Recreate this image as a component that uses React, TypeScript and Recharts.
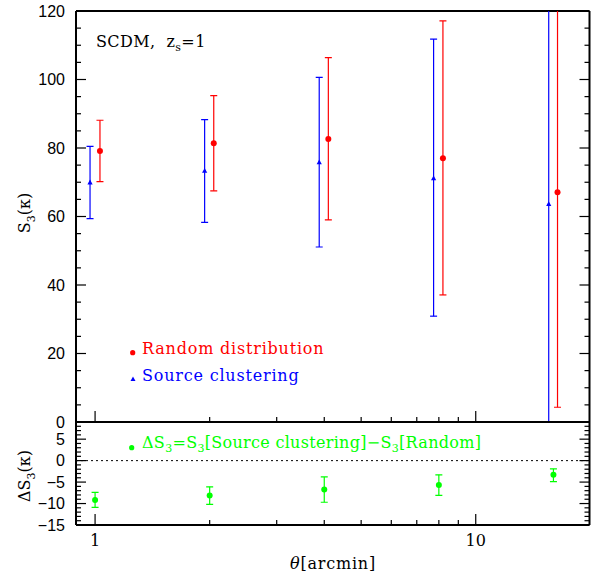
import React from "react";
import { ErrorBar, ReferenceLine, Scatter, ScatterChart, XAxis, YAxis } from "recharts";

// theta in arcmin; the two S3 series are shifted slightly left/right of the nominal scale
const thetaTicks = [1, 2, 3, 4, 5, 6, 7, 8, 9, 10];
const thetaLabels = [1, 10];
const s3Ticks = [0, 5, 10, 15, 20, 25, 30, 35, 40, 45, 50, 55, 60, 65, 70, 75, 80, 85, 90, 95, 100, 105, 110, 115, 120];
const s3Labels = [0, 20, 40, 60, 80, 100, 120];
const deltaTicks = [-15, -14, -13, -12, -11, -10, -9, -8, -7, -6, -5, -4, -3, -2, -1, 0, 1, 2, 3, 4, 5, 6, 7, 8];
const deltaLabels = [-15, -10, -5, 0, 5];

const randomTheta = [1.03, 2.05, 4.1, 8.2, 16.4];
const randomS3 = [79.1, 81.4, 82.6, 77.0, 67.1];
const randomLow = [70.2, 67.5, 59.0, 37.1, 4.3];
const randomHigh = [88.1, 95.3, 106.4, 117.1, 135];

const clusterTheta = [0.97, 1.94, 3.88, 7.75, 15.55];
const clusterS3 = [69.9, 73.3, 75.8, 71.1, 63.6];
const clusterLow = [59.4, 58.3, 51.1, 30.9, -5];
const clusterHigh = [80.5, 88.3, 100.6, 111.8, 140];

const deltaTheta = [1, 2, 4, 8, 16];
const deltaS3 = [-9.2, -8.1, -6.7, -5.7, -3.3];
const deltaLow = [-10.9, -10.2, -9.7, -8.1, -4.9];
const deltaHigh = [-7.4, -6.1, -3.8, -3.3, -1.9];

const build = (xs: number[], ys: number[], lo: number[], hi: number[]) =>
  xs.map((x, i) => ({ x, y: ys[i], err: [ys[i] - lo[i], hi[i] - ys[i]] }));

const randomData = build(randomTheta, randomS3, randomLow, randomHigh);
const clusterData = build(clusterTheta, clusterS3, clusterLow, clusterHigh);
const deltaData = build(deltaTheta, deltaS3, deltaLow, deltaHigh);

const W = 603;
const H = 574;
const LEFT = 76;
const RIGHT = 13.5;
const TOP = 11;
const MID = 422;
const BOTTOM = 525;
const X_DOMAIN = [0.891, 19.9];
const S3_DOMAIN = [0, 120];
const DELTA_DOMAIN = [-15, 9];

const sans = "'Liberation Sans', Arial, sans-serif";
const serif = "'DejaVu Serif', serif";

const RED = "#ff0000";
const BLUE = "#0000ff";
const GREEN = "#00ff00";

const axisLine = { stroke: "#000", strokeWidth: 2 };
const bare = { tickLine: false, tickSize: 0, tickMargin: 0, interval: 0 as const, axisLine };

// inward tick marks drawn from the axis line position, labels outside
function makeTick(
  side: "left" | "right" | "top" | "bottom",
  majors: number[],
  labels: number[] | null,
  majorLen = 10,
  minorLen = 5
) {
  return (props: any) => {
    const { x, y, payload } = props;
    const v = payload.value;
    const len = majors.includes(v) ? majorLen : minorLen;
    const showLabel = labels && labels.includes(v);
    const label = v < 0 ? `\u2212${Math.abs(v)}` : `${v}`;
    if (side === "left" || side === "right") {
      const dir = side === "left" ? 1 : -1;
      return (
        <g>
          <line x1={x} x2={x + dir * len} y1={y} y2={y} stroke="#000" strokeWidth={1.2} />
          {showLabel && (
            <text x={x - 11} y={y} dy="0.36em" textAnchor="end" fontFamily={sans} fontSize={16} fill="#000">
              {label}
            </text>
          )}
        </g>
      );
    }
    const dir = side === "bottom" ? -1 : 1;
    return (
      <g>
        <line x1={x} x2={x} y1={y} y2={y + dir * len} stroke="#000" strokeWidth={1.2} />
        {showLabel && (
          <text x={x} y={y + 15} dy="0.36em" textAnchor="middle" fontFamily={serif} fontSize={16} fill="#000">
            {label}
          </text>
        )}
      </g>
    );
  };
}

const dot = (color: string, r = 3) => (p: any) => <circle cx={p.cx} cy={p.cy} r={r} fill={color} />;
const tri = (color: string) => (p: any) => (
  <polygon
    points={`${p.cx},${p.cy - 3} ${p.cx - 2.6},${p.cy + 1.8} ${p.cx + 2.6},${p.cy + 1.8}`}
    fill={color}
  />
);

const yLabel = (text: React.ReactNode, cy: number) => () => (
  <text
    transform={`translate(24, ${cy}) rotate(-90)`}
    textAnchor="middle"
    dy="0.36em"
    fontFamily={serif}
    fontSize={16}
    fill="#000"
  >
    {text}
  </text>
);

const legendText: React.CSSProperties = {
  position: "absolute",
  fontFamily: serif,
  fontSize: 16,
  letterSpacing: 0.8,
  whiteSpace: "nowrap",
  lineHeight: "20px",
};
const sub: React.CSSProperties = { fontSize: 11, verticalAlign: -4, lineHeight: 0 };

const layer: React.CSSProperties = { position: "absolute", left: 0, top: 0 };

export default function App() {
  return (
    <div style={{ position: "absolute", left: 0, top: 0, width: W, height: H, background: "#fff" }}>
      {/* top panel frame */}
      <div style={layer}>
        <ScatterChart width={W} height={H} margin={{ top: 0, right: 0, bottom: 0, left: 0 }}>
          <XAxis xAxisId="b" type="number" dataKey="x" scale="log" domain={X_DOMAIN} allowDataOverflow
            ticks={thetaTicks} height={H - MID} {...bare} tick={makeTick("bottom", [1, 10], null, 11, 5)} />
          <XAxis xAxisId="t" orientation="top" type="number" scale="log" domain={X_DOMAIN} allowDataOverflow
            ticks={thetaTicks} height={TOP} {...bare} tick={makeTick("top", [1, 10], null, 11, 5)} />
          <YAxis yAxisId="l" type="number" dataKey="y" domain={S3_DOMAIN} allowDataOverflow
            ticks={s3Ticks} width={LEFT} {...bare} tick={makeTick("left", s3Labels, s3Labels)}
            label={{
              content: yLabel(
                <>
                  S<tspan dy="5" fontSize={11}>3</tspan>
                  <tspan dy="-5">(κ)</tspan>
                </>,
                213
              ),
            }}
          />
          <YAxis yAxisId="r" orientation="right" type="number" domain={S3_DOMAIN} allowDataOverflow
            ticks={s3Ticks} width={RIGHT} {...bare} tick={makeTick("right", s3Labels, null)} />
        </ScatterChart>
      </div>

      {/* top panel data, clipped to the plot box */}
      <div style={{ ...layer, clipPath: `inset(${TOP}px ${RIGHT}px ${H - MID}px ${LEFT}px)` }}>
        <ScatterChart width={W} height={H} margin={{ top: TOP, right: RIGHT, bottom: H - MID, left: LEFT }}>
          <XAxis hide type="number" dataKey="x" scale="log" domain={X_DOMAIN} allowDataOverflow />
          <YAxis hide type="number" dataKey="y" domain={S3_DOMAIN} allowDataOverflow />
          <Scatter data={clusterData} isAnimationActive={false} shape={tri(BLUE)}>
            <ErrorBar dataKey="err" direction="y" width={3.5} stroke={BLUE} strokeWidth={1.2} isAnimationActive={false} />
          </Scatter>
          <Scatter data={randomData} isAnimationActive={false} shape={dot(RED, 3)}>
            <ErrorBar dataKey="err" direction="y" width={3.5} stroke={RED} strokeWidth={1.2} isAnimationActive={false} />
          </Scatter>
        </ScatterChart>
      </div>

      {/* bottom panel frame */}
      <div style={layer}>
        <ScatterChart width={W} height={H} margin={{ top: 0, right: 0, bottom: 0, left: 0 }}>
          <XAxis xAxisId="b" type="number" dataKey="x" scale="log" domain={X_DOMAIN} allowDataOverflow
            ticks={thetaTicks} height={H - BOTTOM} {...bare} tick={makeTick("bottom", [1, 10], thetaLabels, 11, 5)}
            label={{
              content: () => (
                <text x={333} y={563} dy="0.36em" textAnchor="middle" fontFamily={serif} fontSize={16}
                  letterSpacing={0.8} fill="#000">
                  <tspan fontStyle="italic">θ</tspan>[arcmin]
                </text>
              ),
            }}
          />
          <XAxis xAxisId="t" orientation="top" type="number" scale="log" domain={X_DOMAIN} allowDataOverflow
            ticks={[1]} height={MID} {...bare} tick={makeTick("top", [1], null, 11, 5)} />
          <YAxis yAxisId="l" type="number" dataKey="y" domain={DELTA_DOMAIN} allowDataOverflow
            ticks={deltaTicks} width={LEFT} {...bare} tick={makeTick("left", deltaLabels, deltaLabels, 10, 5)}
            label={{
              content: yLabel(
                <>
                  ΔS<tspan dy="5" fontSize={11}>3</tspan>
                  <tspan dy="-5">(κ)</tspan>
                </>,
                476
              ),
            }}
          />
          <YAxis yAxisId="r" orientation="right" type="number" domain={DELTA_DOMAIN} allowDataOverflow
            ticks={deltaTicks} width={RIGHT} {...bare} tick={makeTick("right", deltaLabels, null, 10, 5)} />
        </ScatterChart>
      </div>

      {/* bottom panel data */}
      <div style={{ ...layer, clipPath: `inset(${MID}px ${RIGHT}px ${H - BOTTOM}px ${LEFT}px)` }}>
        <ScatterChart width={W} height={H} margin={{ top: MID, right: RIGHT, bottom: H - BOTTOM, left: LEFT }}>
          <XAxis hide type="number" dataKey="x" scale="log" domain={X_DOMAIN} allowDataOverflow />
          <YAxis hide type="number" dataKey="y" domain={DELTA_DOMAIN} allowDataOverflow />
          <ReferenceLine y={0} stroke="#000" strokeWidth={1} strokeDasharray="2 3" />
          <Scatter data={deltaData} isAnimationActive={false} shape={dot(GREEN, 3)}>
            <ErrorBar dataKey="err" direction="y" width={3.5} stroke={GREEN} strokeWidth={1.2} isAnimationActive={false} />
          </Scatter>
        </ScatterChart>
      </div>

      {/* in-plot legends and annotation */}
      <div style={{ ...legendText, left: 96, top: 32, color: "#000", letterSpacing: 0.4 }}>
        SCDM,&nbsp; z<span style={sub}>s</span>=1
      </div>
      <svg style={{ position: "absolute", left: 0, top: 0, overflow: "visible" }} width={1} height={1}>
        <circle cx={132.7} cy={352.7} r={2.6} fill={RED} />
        <polygon points="133,376.5 130.5,381 135.5,381" fill={BLUE} />
        <circle cx={131.7} cy={447.7} r={2.6} fill={GREEN} />
      </svg>
      <div style={{ ...legendText, left: 142, top: 339, color: RED }}>Random distribution</div>
      <div style={{ ...legendText, left: 142, top: 366, color: BLUE }}>Source clustering</div>
      <div style={{ ...legendText, left: 142, top: 433, color: GREEN, letterSpacing: 0.3 }}>
        ΔS<span style={sub}>3</span>=S<span style={sub}>3</span>[Source clustering]−S<span style={sub}>3</span>[Random]
      </div>
    </div>
  );
}
